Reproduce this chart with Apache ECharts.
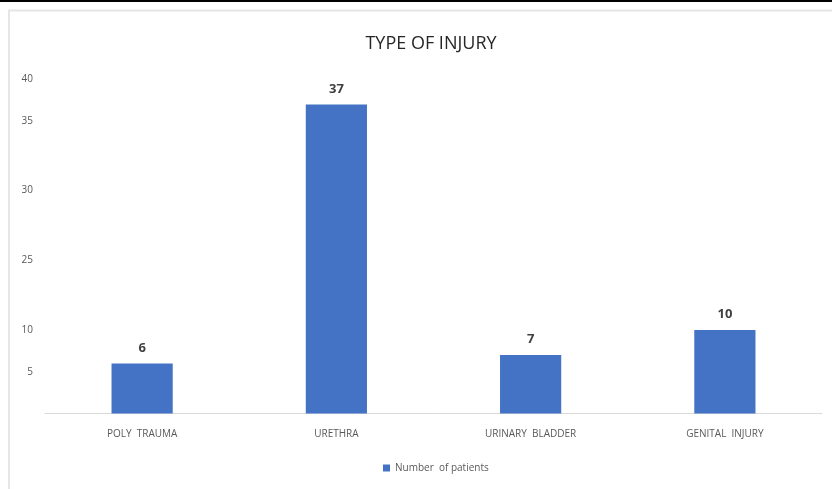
<!DOCTYPE html>
<html>
<head>
<meta charset="utf-8">
<script src="https://cdn.jsdelivr.net/npm/echarts@6/dist/echarts.min.js"></script>
<style>
  html, body { margin: 0; padding: 0; background: #fff; }
  #chart { width: 832px; height: 489px; }
</style>
</head>
<body>
<div id="chart"></div>
<script>
const categories = ['POLY  TRAUMA', 'URETHRA', 'URINARY  BLADDER', 'GENITAL  INJURY'];
const patients = [6, 37, 7, 10];
const seriesName = 'Number  of patients';
const yTickLabels = ['5', '10', '25', '30', '35', '40'];
const yTickAt = [5, 10, 18.4, 26.8, 35, 40];

const chart = echarts.init(document.getElementById('chart'), null, { renderer: 'canvas' });
const font = "'Liberation Sans Narrow', 'Open Sans', sans-serif";
chart.setOption({
  animation: false,
  backgroundColor: '#fff',
  title: {
    text: 'TYPE OF INJURY',
    left: 426, top: 30, textAlign: 'center',
    textStyle: { fontFamily: font, fontSize: 18, fontWeight: 'normal', color: '#262626' }
  },
  legend: {
    bottom: 11, left: 378,
    itemWidth: 7, itemHeight: 7, itemGap: 4,
    icon: 'rect',
    textStyle: { fontFamily: font, fontSize: 10, color: '#595959' },
    data: [seriesName]
  },
  grid: { left: 45, right: 10, top: 79.5, bottom: 75.5, containLabel: false },
  xAxis: {
    type: 'category',
    data: categories,
    axisLine: { lineStyle: { color: '#d9d9d9' } },
    axisTick: { show: false },
    axisLabel: { fontFamily: font, fontSize: 10, color: '#595959', margin: 16 }
  },
  yAxis: {
    type: 'value',
    min: 0, max: 40,
    splitLine: { show: false },
    axisLine: { show: false },
    axisTick: { show: false },
    axisLabel: {
      customValues: yTickAt,
      formatter: function (v) {
        const i = yTickAt.indexOf(v);
        return i >= 0 ? yTickLabels[i] : '';
      },
      fontFamily: font, fontSize: 10, color: '#595959', margin: 12
    }
  },
  series: [{
    name: seriesName,
    type: 'bar',
    data: patients,
    barWidth: '31.5%',
    itemStyle: { color: '#4472C4' },
    label: {
      show: true, position: 'top', distance: 9,
      fontFamily: font, fontSize: 13, fontWeight: 'bold', color: '#404040'
    }
  }],
  graphic: [
    { type: 'rect', shape: { x: 0, y: 0, width: 832, height: 2 }, style: { fill: '#000' }, silent: true },
    { type: 'line', shape: { x1: 8, y1: 10.5, x2: 832, y2: 10.5 }, style: { stroke: '#e6e6e6', lineWidth: 2 }, silent: true },
    { type: 'line', shape: { x1: 9, y1: 10, x2: 9, y2: 489 }, style: { stroke: '#e6e6e6', lineWidth: 2 }, silent: true }
  ]
});
</script>
</body>
</html>
